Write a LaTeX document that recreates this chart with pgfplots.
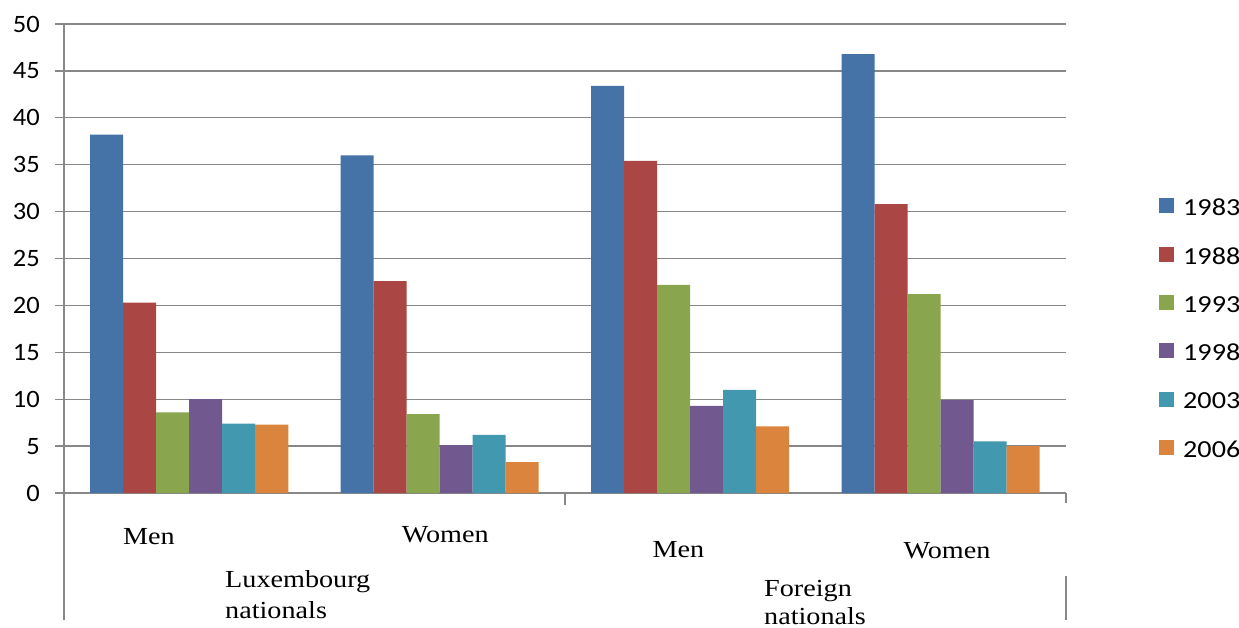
\documentclass[border=0pt]{standalone}
\usepackage{graphicx}
\usepackage{pgfplots}
\pgfplotsset{compat=1.18}
\usepackage{fontspec}
\setmainfont{Liberation Serif}
\newfontfamily\calib{Carlito}
\definecolor{c1}{HTML}{4572A7}
\definecolor{c2}{HTML}{AA4643}
\definecolor{c3}{HTML}{89A54E}
\definecolor{c4}{HTML}{71588F}
\definecolor{c5}{HTML}{4198AF}
\definecolor{c6}{HTML}{DB843D}
\definecolor{gridc}{RGB}{136,136,136}
\newcommand{\sx}[1]{\scalebox{1.15}[1]{#1}}
\newcommand{\sy}[1]{\scalebox{1.06}[1]{#1}}
\newcommand{\serif}{\fontsize{24.5bp}{29bp}\selectfont}
\begin{document}
\begin{tikzpicture}
\begin{axis}[
  at={(64bp,135bp)}, anchor=south west,
  scale only axis, width=1002bp, height=469bp,
  xmin=-0.5, xmax=3.5, ymin=0, ymax=50,
  ybar=0pt, bar width=33bp,
  axis y line=left, axis x line=bottom,
  axis line style={-, draw=gridc, line width=1.3bp},
  ymajorgrids, grid style={draw=gridc, line width=1.3bp},
  ytick={0,5,...,50},
  tick align=outside,
  major tick length=9bp,
  ytick style={draw=gridc, line width=1.3bp},
  /pgf/number format/assume math mode=true,
  yticklabel style={font=\calib\fontsize{25bp}{30bp}\selectfont, inner sep=0pt, anchor=east, xshift=-15bp},
  yticklabel={\sy{\pgfmathprintnumber{\tick}}},
  xtick={-0.1607,1.022,1.953,3.025},
  xticklabels={{\sx{\raisebox{-2bp}{Men}}},{\sx{Women}},{\sx{\raisebox{-15bp}{Men}}},{\sx{\raisebox{-16bp}{Women}}}},
  xtick style={draw=none},
  xticklabel style={anchor=base, inner sep=0pt, font=\serif, yshift=-40bp},
  legend style={at={(1.0928,0.351)}, anchor=west, draw=none, fill=none, inner sep=0pt,
    row sep=29.4bp, column sep=9bp, font=\calib\fontsize{24.5bp}{29bp}\selectfont,
    nodes={inner sep=0pt}},
  legend cell align=left,
  legend image code/.code={\fill[#1] (0bp,-5bp) rectangle (15bp,10bp);},
  clip=false,
]
\addplot[fill=c1, draw=none] coordinates {(0,38.2) (1,36.0) (2,43.4) (3,46.8)};
\addplot[fill=c2, draw=none] coordinates {(0,20.3) (1,22.6) (2,35.4) (3,30.8)};
\addplot[fill=c3, draw=none] coordinates {(0,8.6) (1,8.4) (2,22.2) (3,21.2)};
\addplot[fill=c4, draw=none] coordinates {(0,10.0) (1,5.1) (2,9.3) (3,9.9)};
\addplot[fill=c5, draw=none] coordinates {(0,7.4) (1,6.2) (2,11.0) (3,5.5)};
\addplot[fill=c6, draw=none] coordinates {(0,7.3) (1,3.3) (2,7.1) (3,5.0)};
\legend{\sx{1983},\sx{1988},\sx{1993},\sx{1998},\sx{2003},\sx{2006}}
\draw[gridc, line width=1.3bp] (rel axis cs:0,0) -- ([yshift=-127bp]rel axis cs:0,0);
\draw[gridc, line width=1.3bp] (axis cs:1.5,0) -- ([yshift=-12bp]axis cs:1.5,0);
\draw[gridc, line width=1.3bp] (axis cs:3.5,0) -- ([yshift=-10bp]axis cs:3.5,0);
\draw[gridc, line width=1.3bp] ([yshift=-83bp]axis cs:3.5,0) -- ([yshift=-127bp]axis cs:3.5,0);
\node[anchor=base west, inner sep=0pt, font=\serif] at ([yshift=-94bp]rel axis cs:0.1607,0) {\sx{Luxembourg}};
\node[anchor=base west, inner sep=0pt, font=\serif] at ([yshift=-125bp]rel axis cs:0.1607,0) {\sx{nationals}};
\node[anchor=base west, inner sep=0pt, font=\serif] at ([yshift=-103bp]rel axis cs:0.6986,0) {\sx{Foreign}};
\node[anchor=base west, inner sep=0pt, font=\serif] at ([yshift=-131bp]rel axis cs:0.6986,0) {\sx{nationals}};
\end{axis}
\pgfresetboundingbox
\useasboundingbox (0,0) rectangle (1239bp,628bp);
\end{tikzpicture}
\end{document}
